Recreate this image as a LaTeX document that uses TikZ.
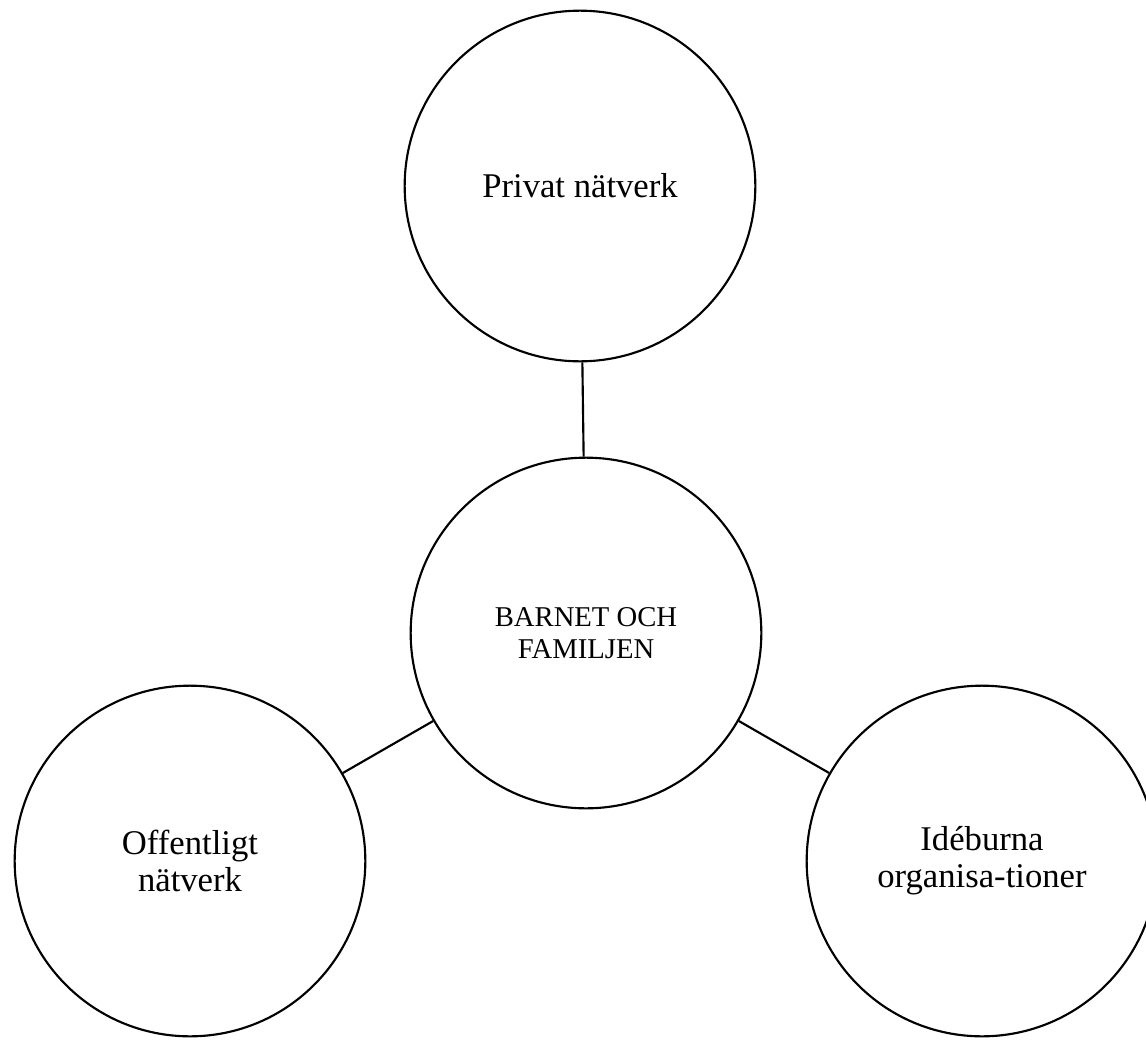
\documentclass[tikz,border=0pt]{standalone}
\usepackage{fontspec}
\setmainfont{Liberation Serif}
\begin{document}
\begin{tikzpicture}[x=0.75pt,y=-0.75pt,line width=1.6pt,
  krets/.style={draw,circle,minimum size=263pt,inner sep=0pt,align=center,
    font=\fontsize{26}{28}\selectfont}]
\useasboundingbox (0,0) rectangle (1146,1039);
\node[krets] (P) at (580,186) {Privat nätverk};
\node[krets,font=\fontsize{21.5}{24}\selectfont] (B) at (586,633) {BARNET OCH\\FAMILJEN};
\node[krets] (O) at (190,861) {Offentligt\\nätverk};
\node[krets] (I) at (982,861) {Idéburna\\organisa-tioner};
\draw (P)--(B)(B)--(O)(B)--(I);
\end{tikzpicture}
\end{document}
